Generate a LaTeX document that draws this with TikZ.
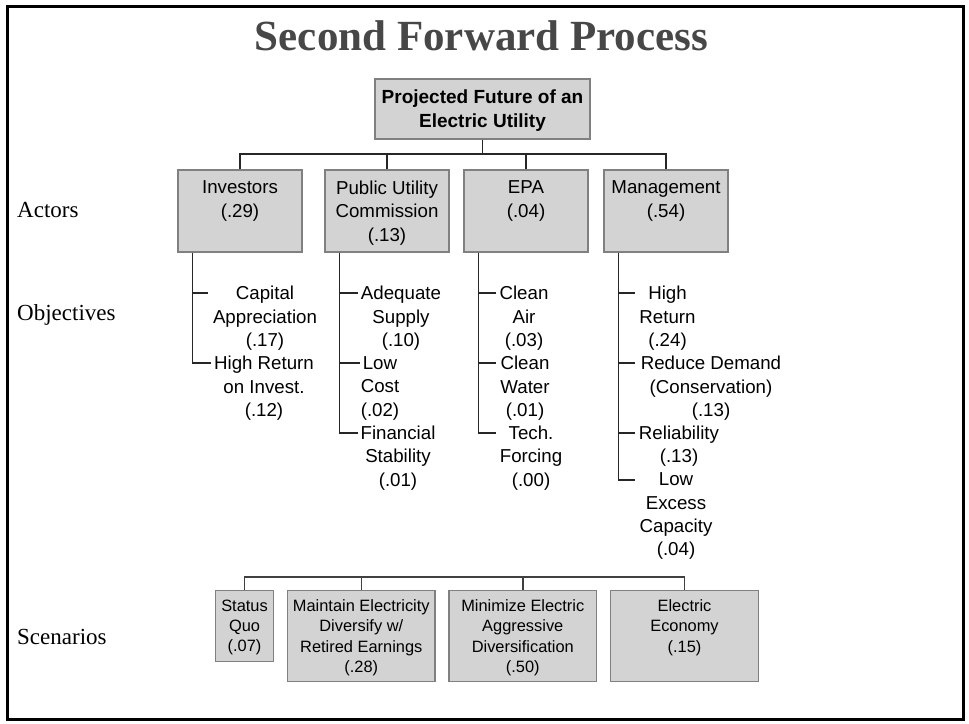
\documentclass[tikz,border=0pt]{standalone}
\usepackage{fontspec}
\setmainfont{Liberation Sans}
\newfontfamily\serifface{Liberation Serif}
\usetikzlibrary{calc}
\definecolor{boxfill}{HTML}{D3D3D3}
\definecolor{boxline}{HTML}{808080}
\definecolor{titlegray}{HTML}{474747}
% fixed-size box content with its lines set from the top
\newcommand{\toptext}[4]{\parbox[c][#2][t]{#1}{\centering\vspace*{#3}#4}}
\begin{document}
\begin{tikzpicture}[x=1pt,y=-1pt,
  box/.style={draw=boxline, fill=boxfill, line width=1.1pt, inner sep=0pt},
  actor/.style={box, font=\fontsize{18.7}{23.3}\selectfont},
  scen/.style={box, font=\fontsize{16.4}{20.3}\selectfont},
  obj/.style={align=center, inner sep=0pt, font=\fontsize{18.7}{23.3}\selectfont},
  rowlabel/.style={anchor=base west, inner sep=0pt, font=\serifface\fontsize{23}{27}\selectfont},
  link/.style={line width=1.4pt, draw=black!85},
]
\useasboundingbox (0,0) rectangle (969,723);
\draw[line width=3pt] (7,6) rectangle (963,719);

% title
\node[anchor=base, inner sep=0pt, text=titlegray,
      font=\serifface\bfseries\fontsize{43}{50}\selectfont] (title) at (481.5,50) {Second Forward Process};

% goal
\node[box, font=\bfseries\fontsize{19}{24}\selectfont] (root) at (482.5,109)
  {\toptext{215pt}{60pt}{11pt}{Projected Future of an\\Electric Utility}};

% actors
\node[actor] (inv)  at (240,211) {\toptext{124pt}{82pt}{11pt}{Investors\\(.29)}};
\node[actor] (puc)  at (387,211) {\toptext{124pt}{82pt}{11pt}{Public Utility\\Commission\\(.13)}};
\node[actor] (epa)  at (526,211) {\toptext{124pt}{82pt}{11pt}{EPA\\(.04)}};
\node[actor] (mgmt) at (666,211) {\toptext{124pt}{82pt}{11pt}{Management\\(.54)}};

\coordinate (bus) at (0,154);
\draw[link] (root.south) -- (root.south |- bus);
\draw[link] (inv.north) -- (inv.north |- bus) -- (mgmt.north |- bus) -- (mgmt.north);
\draw[link] (puc.north) -- (puc.north |- bus);
\draw[link] (epa.north) -- (epa.north |- bus);

% objectives
\node[obj] (cap) at (265,318.3) {Capital\\Appreciation\\(.17)};
\node[obj] (hri) at (264,388.2) {High Return\\on Invest.\\(.12)};

\node[obj] (ads) at (401,318.3) {Adequate\\Supply\\(.10)};
\node[obj] (lco) at (380,388.2) {Low\\Cost\\(.02)};
\node[obj] (fst) at (398,458.1) {Financial\\Stability\\(.01)};

\node[obj] (cai) at (524,318.3) {Clean\\Air\\(.03)};
\node[obj] (cwa) at (525,388.2) {Clean\\Water\\(.01)};
\node[obj] (tfo) at (531,458.1) {Tech.\\Forcing\\(.00)};

\node[obj] (hre) at (667.5,318.3) {High\\Return\\(.24)};
\node[obj] (rdc) at (711,388.2) {Reduce Demand\\(Conservation)\\(.13)};
\node[obj] (rel) at (679,446.5) {Reliability\\(.13)};
\node[obj] (lec) at (676,516.3) {Low\\Excess\\Capacity\\(.04)};

% rails and ticks
\coordinate (invrail)  at ($(inv.south west)+(15,0)$);
\coordinate (pucrail)  at ($(puc.south west)+(15,0)$);
\coordinate (eparail)  at ($(epa.south west)+(15,0)$);
\coordinate (mgmtrail) at ($(mgmt.south west)+(15,0)$);

\coordinate (iA) at (208,293);
\coordinate (iB) at (211,363);
\coordinate (pA) at (358,293);
\coordinate (pB) at (360,363);
\coordinate (pC) at (358,433);
\coordinate (eA) at (496,293);
\coordinate (eB) at (496,363);
\coordinate (eC) at (496,433);
\coordinate (mA) at (635,293);
\coordinate (mB) at (635,363);
\coordinate (mC) at (635,433);
\coordinate (mD) at (635,480);

\draw[link] (invrail) |- (iB);
\draw[link] (iA -| invrail) -- (iA);

\draw[link] (pucrail) |- (pC);
\draw[link] (pA -| pucrail) -- (pA);
\draw[link] (pB -| pucrail) -- (pB);

\draw[link] (eparail) |- (eC);
\draw[link] (eA -| eparail) -- (eA);
\draw[link] (eB -| eparail) -- (eB);

\draw[link] (mgmtrail) |- (mD);
\draw[link] (mA -| mgmtrail) -- (mA);
\draw[link] (mB -| mgmtrail) -- (mB);
\draw[link] (mC -| mgmtrail) -- (mC);

% scenarios
\node[scen] (sq) at (244.5,626.2) {\toptext{57.6pt}{71pt}{8.9pt}{Status\\Quo\\(.07)}};
\node[scen] (me) at (361.3,636.2) {\toptext{147.3pt}{91pt}{8.9pt}{Maintain Electricity\\Diversify w/\\Retired Earnings\\(.28)}};
\node[scen] (mi) at (522.8,636.2) {\toptext{147.7pt}{91pt}{8.9pt}{Minimize Electric\\Aggressive\\Diversification\\(.50)}};
\node[scen] (ee) at (684.5,636.2) {\toptext{147.6pt}{91pt}{8.9pt}{Electric\\Economy\\(.15)}};

\coordinate (sbus) at (0,577);
\draw[link, draw=black!75] (sq.north) -- (sq.north |- sbus) -- (ee.north |- sbus) -- (ee.north);
\draw[link, draw=black!75] (me.north) -- (me.north |- sbus);
\draw[link, draw=black!75] (mi.north) -- (mi.north |- sbus);

% level labels
\node[rowlabel] (lact) at (17,217) {Actors};
\node[rowlabel] (lobj) at (17,320) {Objectives};
\node[rowlabel] (lsce) at (17,644) {Scenarios};
\end{tikzpicture}
\end{document}
